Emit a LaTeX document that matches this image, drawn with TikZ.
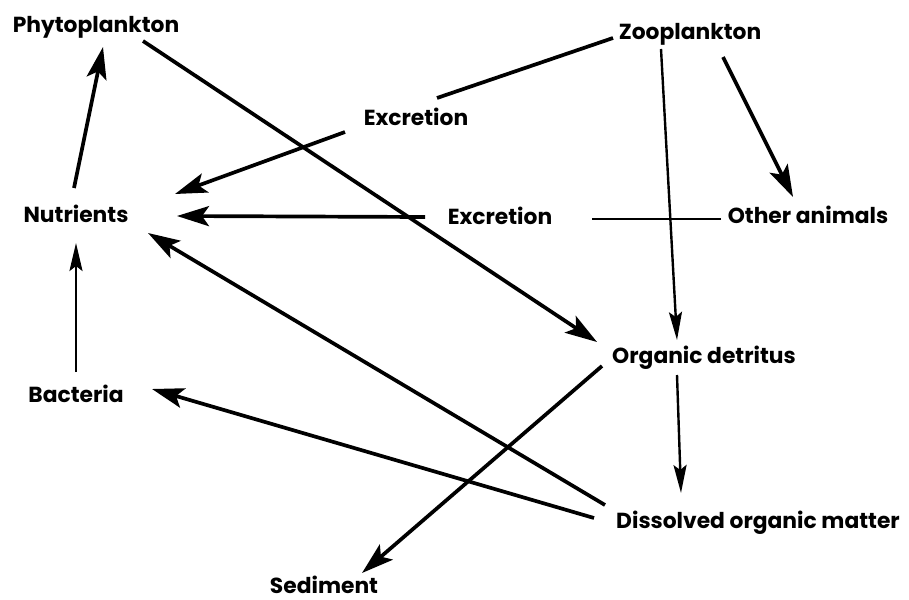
\documentclass[tikz,border=0pt]{standalone}
\usepackage{fontspec}
\setmainfont{Poppins}
\usetikzlibrary{arrows.meta}
\begin{document}
\begin{tikzpicture}[x=1pt,y=-1pt,
  lbl/.style={font=\fontsize{21.8}{24}\selectfont\bfseries, inner sep=0pt, anchor=base},
  thick line/.style={line width=3.7pt},
  thin line/.style={line width=2.4pt},
  arr/.style={thick line, -{Stealth[length=32pt,width=20pt,inset=7pt]}},
  tarr/.style={thin line, -{Stealth[length=28pt,width=13pt,inset=5pt]}}]
\useasboundingbox (0,0) rectangle (909,599);
\node[lbl] (phy) at (96,33) {Phytoplankton};
\node[lbl] (zoo) at (690,40) {Zooplankton};
\node[lbl] (exu) at (416,125) {Excretion};
\node[lbl] (nut) at (76,222) {Nutrients};
\node[lbl] (exm) at (500,224) {Excretion};
\node[lbl] (oth) at (808,223) {Other animals};
\node[lbl] (det) at (704,363) {Organic detritus};
\node[lbl] (bac) at (76,402) {Bacteria};
\node[lbl] (dom) at (758,528) {Dissolved organic matter};
\node[lbl] (sed) at (324,593) {Sediment};

\draw[arr] ([shift={(-2,-34)}]nut.base) -- ([shift={(7,14)}]phy.base);
\draw[tarr] ([shift={(0,-30)}]bac.base) -- ([shift={(0,21)}]nut.base);
\draw[arr] ([shift={(47,8)}]phy.base) -- ([shift={(-107,-21)}]det.base);
\draw[thick line] ([shift={(-77,-2)}]zoo.base) -- ([shift={(21,-27)}]exu.base);
\draw[arr] ([shift={(-71,7)}]exu.base) -- ([shift={(99,-28)}]nut.base);
\draw[arr] ([shift={(-75,-7)}]exm.base) -- ([shift={(101,-6)}]nut.base);
\draw[thin line] ([shift={(-87,-4)}]oth.base) -- ([shift={(92,-5)}]exm.base);
\draw[arr] ([shift={(33,17)}]zoo.base) -- ([shift={(-15,-26)}]oth.base);
\draw[tarr] ([shift={(-29,9)}]zoo.base) -- ([shift={(-27,-23)}]det.base);
\draw[tarr] ([shift={(-27,12)}]det.base) -- ([shift={(-77,-35)}]dom.base);
\draw[arr] ([shift={(-102,3)}]det.base) -- ([shift={(38,-20)}]sed.base);
\draw[arr] ([shift={(-164,-10)}]dom.base) -- ([shift={(76,-13)}]bac.base);
\draw[arr] ([shift={(-153,-23)}]dom.base) -- ([shift={(72,11)}]nut.base);
\end{tikzpicture}
\end{document}
